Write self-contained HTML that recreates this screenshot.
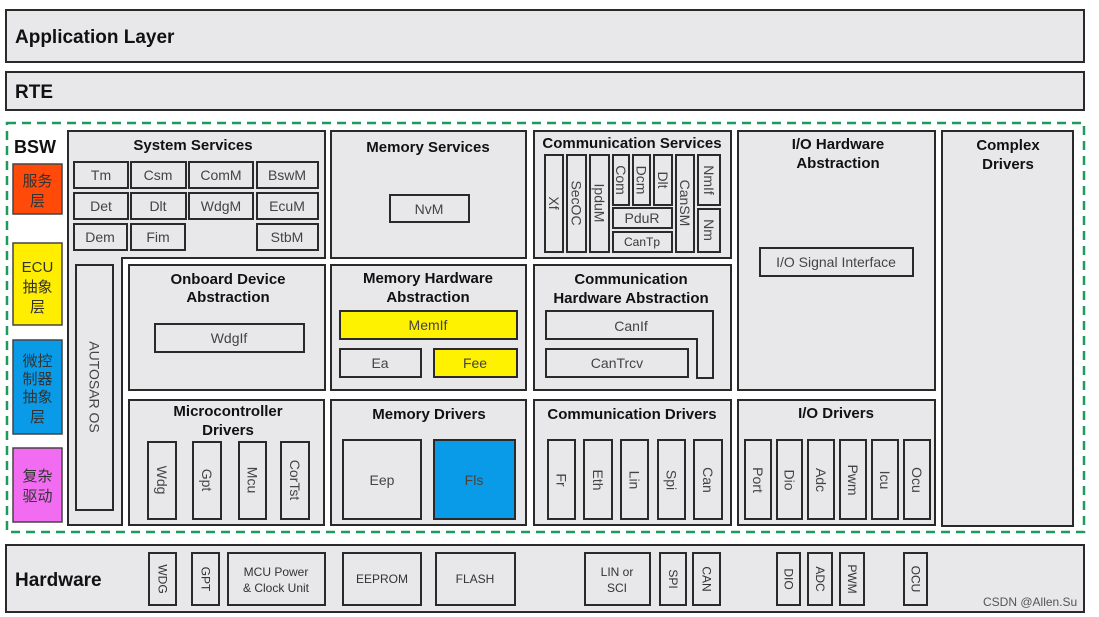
<!DOCTYPE html>
<html><head><meta charset="utf-8">
<style>
html,body{margin:0;padding:0;background:#fff;}
svg{display:block;}
text{font-family:"Liberation Sans","Noto Sans CJK SC",sans-serif;}
.b{fill:#e8e7ea;stroke:#2a2a2a;stroke-width:2;}
.t{font-weight:bold;font-size:15px;fill:#111;text-anchor:middle;}
.l{font-size:14px;fill:#444;text-anchor:middle;dominant-baseline:central;}
.h{font-size:12px;fill:#333;text-anchor:middle;dominant-baseline:central;}
.z{font-size:15px;fill:#333;text-anchor:middle;}
</style></head><body>
<svg width="1099" height="617" viewBox="0 0 1099 617" xmlns="http://www.w3.org/2000/svg">
<rect class="b" x="6" y="10" width="1078" height="52"/>
<text x="15" y="43" style="font-weight:bold;font-size:19px;fill:#111">Application Layer</text>
<rect class="b" x="6" y="72" width="1078" height="38"/>
<text x="15" y="98" style="font-weight:bold;font-size:19px;fill:#111">RTE</text>
<rect x="7" y="123" width="1077" height="409" fill="none" stroke="#1f9a5f" stroke-width="2.5" stroke-dasharray="9,6"/>
<text x="14" y="153" style="font-weight:bold;font-size:18px;fill:#111">BSW</text>
<rect x="13" y="164" width="49" height="50" fill="#ff4a0a" stroke="#444" stroke-width="1.5"/>
<text class="z" x="37.5" y="186">服务</text><text class="z" x="37.5" y="206">层</text>
<rect x="13" y="243" width="49" height="82" fill="#ffee00" stroke="#444" stroke-width="1.5"/>
<text class="z" x="37.5" y="272">ECU</text><text class="z" x="37.5" y="292">抽象</text><text class="z" x="37.5" y="312">层</text>
<rect x="13" y="340" width="49" height="94" fill="#0a9be8" stroke="#444" stroke-width="1.5"/>
<text class="z" x="37.5" y="366">微控</text><text class="z" x="37.5" y="384">制器</text><text class="z" x="37.5" y="402">抽象</text><text class="z" x="37.5" y="422">层</text>
<rect x="13" y="448" width="49" height="74" fill="#f26cf2" stroke="#444" stroke-width="1.5"/>
<text class="z" x="37.5" y="481">复杂</text><text class="z" x="37.5" y="501">驱动</text>

<!-- System services L -->
<path class="b" d="M68 131 H325 V258 H122 V525 H68 Z"/>
<text class="t" x="193" y="150">System Services</text>
<rect class="b" x="74" y="162" width="54" height="26"/><text class="l" x="101" y="175">Tm</text>
<rect class="b" x="131" y="162" width="55" height="26"/><text class="l" x="158" y="175">Csm</text>
<rect class="b" x="189" y="162" width="64" height="26"/><text class="l" x="221" y="175">ComM</text>
<rect class="b" x="257" y="162" width="61" height="26"/><text class="l" x="287" y="175">BswM</text>
<rect class="b" x="74" y="193" width="54" height="26"/><text class="l" x="101" y="206">Det</text>
<rect class="b" x="131" y="193" width="55" height="26"/><text class="l" x="158" y="206">Dlt</text>
<rect class="b" x="189" y="193" width="64" height="26"/><text class="l" x="221" y="206">WdgM</text>
<rect class="b" x="257" y="193" width="61" height="26"/><text class="l" x="287" y="206">EcuM</text>
<rect class="b" x="74" y="224" width="53" height="26"/><text class="l" x="100" y="237">Dem</text>
<rect class="b" x="131" y="224" width="54" height="26"/><text class="l" x="158" y="237">Fim</text>
<rect class="b" x="257" y="224" width="61" height="26"/><text class="l" x="287" y="237">StbM</text>
<rect class="b" x="76" y="265" width="37" height="245"/>
<text class="l" transform="translate(94.5 387) rotate(90)">AUTOSAR  OS</text>

<rect class="b" x="129" y="265" width="196" height="125"/>
<text class="t" x="228" y="284">Onboard Device</text><text class="t" x="228" y="302">Abstraction</text>
<rect class="b" x="155" y="324" width="149" height="28"/><text class="l" x="229" y="338">WdgIf</text>

<rect class="b" x="129" y="400" width="195" height="125"/>
<text class="t" x="228" y="416">Microcontroller</text><text class="t" x="228" y="435">Drivers</text>
<rect class="b" x="148" y="442" width="28" height="77"/><text class="l" transform="translate(162 480) rotate(90)">Wdg</text>
<rect class="b" x="193" y="442" width="28" height="77"/><text class="l" transform="translate(207 480) rotate(90)">Gpt</text>
<rect class="b" x="239" y="442" width="27" height="77"/><text class="l" transform="translate(252.5 480) rotate(90)">Mcu</text>
<rect class="b" x="281" y="442" width="28" height="77"/><text class="l" transform="translate(295 480) rotate(90)">CorTst</text>

<!-- Memory -->
<rect class="b" x="331" y="131" width="195" height="127"/>
<text class="t" x="428" y="152">Memory Services</text>
<rect class="b" x="390" y="195" width="79" height="27"/><text class="l" x="429" y="209">NvM</text>
<rect class="b" x="331" y="265" width="195" height="125"/>
<text class="t" x="428" y="283">Memory Hardware</text><text class="t" x="428" y="302">Abstraction</text>
<rect x="340" y="311" width="177" height="28" fill="#fff200" stroke="#2a2a2a" stroke-width="2"/><text class="l" x="428" y="325">MemIf</text>
<rect class="b" x="340" y="349" width="81" height="28"/><text class="l" x="380" y="363">Ea</text>
<rect x="434" y="349" width="83" height="28" fill="#fff200" stroke="#2a2a2a" stroke-width="2"/><text class="l" x="475" y="363">Fee</text>
<rect class="b" x="331" y="400" width="195" height="125"/>
<text class="t" x="429" y="419">Memory Drivers</text>
<rect class="b" x="343" y="440" width="78" height="79"/><text class="l" x="382" y="480">Eep</text>
<rect x="434" y="440" width="81" height="79" fill="#0a9be8" stroke="#2a2a2a" stroke-width="2"/><text class="l" x="474" y="480">Fls</text>

<!-- Communication -->
<rect class="b" x="534" y="131" width="197" height="127"/>
<text class="t" x="632" y="148">Communication Services</text>
<rect class="b" x="545" y="155" width="18" height="97"/><text class="l" transform="translate(554 203) rotate(90)">Xf</text>
<rect class="b" x="567" y="155" width="19" height="97"/><text class="l" transform="translate(576.5 203) rotate(90)">SecOC</text>
<rect class="b" x="590" y="155" width="19" height="97"/><text class="l" transform="translate(599.5 203) rotate(90)">IpduM</text>
<rect class="b" x="613" y="155" width="16" height="50"/><text class="l" transform="translate(621 180) rotate(90)">Com</text>
<rect class="b" x="633" y="155" width="17" height="50"/><text class="l" transform="translate(641.5 180) rotate(90)">Dcm</text>
<rect class="b" x="654" y="155" width="18" height="50"/><text class="l" transform="translate(663 180) rotate(90)">Dlt</text>
<rect class="b" x="613" y="208" width="59" height="20"/><text class="l" x="642" y="218">PduR</text>
<rect class="b" x="613" y="232" width="59" height="20"/><text class="h" x="642" y="242">CanTp</text>
<rect class="b" x="676" y="155" width="18" height="97"/><text class="l" transform="translate(685 203) rotate(90)">CanSM</text>
<rect class="b" x="698" y="155" width="22" height="50"/><text class="l" transform="translate(709 180) rotate(90)">NmIf</text>
<rect class="b" x="698" y="209" width="22" height="43"/><text class="l" transform="translate(709 230) rotate(90)">Nm</text>

<rect class="b" x="534" y="265" width="197" height="125"/>
<text class="t" x="631" y="284">Communication</text><text class="t" x="631" y="303">Hardware Abstraction</text>
<path class="b" d="M546 311 H713 V378 H697 V339 H546 Z"/><text class="l" x="631" y="326">CanIf</text>
<rect class="b" x="546" y="349" width="142" height="28"/><text class="l" x="617" y="363">CanTrcv</text>

<rect class="b" x="534" y="400" width="197" height="125"/>
<text class="t" x="632" y="419">Communication Drivers</text>
<rect class="b" x="548" y="440" width="27" height="79"/><text class="l" transform="translate(561.5 480) rotate(90)">Fr</text>
<rect class="b" x="584" y="440" width="28" height="79"/><text class="l" transform="translate(598 480) rotate(90)">Eth</text>
<rect class="b" x="621" y="440" width="27" height="79"/><text class="l" transform="translate(634.5 480) rotate(90)">Lin</text>
<rect class="b" x="658" y="440" width="27" height="79"/><text class="l" transform="translate(671.5 480) rotate(90)">Spi</text>
<rect class="b" x="694" y="440" width="28" height="79"/><text class="l" transform="translate(708 480) rotate(90)">Can</text>

<!-- IO -->
<rect class="b" x="738" y="131" width="197" height="259"/>
<text class="t" x="838" y="149">I/O Hardware</text><text class="t" x="838" y="168">Abstraction</text>
<rect class="b" x="760" y="248" width="153" height="28"/><text class="l" x="836" y="262">I/O Signal Interface</text>
<rect class="b" x="738" y="400" width="197" height="125"/>
<text class="t" x="836" y="418">I/O Drivers</text>
<rect class="b" x="745" y="440" width="26" height="79"/><text class="l" transform="translate(758 480) rotate(90)">Port</text>
<rect class="b" x="777" y="440" width="25" height="79"/><text class="l" transform="translate(789.5 480) rotate(90)">Dio</text>
<rect class="b" x="808" y="440" width="26" height="79"/><text class="l" transform="translate(821 480) rotate(90)">Adc</text>
<rect class="b" x="840" y="440" width="26" height="79"/><text class="l" transform="translate(853 480) rotate(90)">Pwm</text>
<rect class="b" x="872" y="440" width="26" height="79"/><text class="l" transform="translate(885 480) rotate(90)">Icu</text>
<rect class="b" x="904" y="440" width="26" height="79"/><text class="l" transform="translate(917 480) rotate(90)">Ocu</text>

<rect class="b" x="942" y="131" width="131" height="395"/>
<text class="t" x="1008" y="150">Complex</text><text class="t" x="1008" y="169">Drivers</text>

<!-- Hardware -->
<rect class="b" x="6" y="545" width="1078" height="67"/>
<text x="15" y="586" style="font-weight:bold;font-size:19px;fill:#111">Hardware</text>
<rect class="b" x="149" y="553" width="27" height="52"/><text class="h" transform="translate(162.5 579) rotate(90)">WDG</text>
<rect class="b" x="192" y="553" width="27" height="52"/><text class="h" transform="translate(205.5 579) rotate(90)">GPT</text>
<rect class="b" x="228" y="553" width="97" height="52"/><text class="h" x="276" y="572">MCU Power</text><text class="h" x="276" y="588">&amp; Clock Unit</text>
<rect class="b" x="343" y="553" width="78" height="52"/><text class="h" x="382" y="579">EEPROM</text>
<rect class="b" x="436" y="553" width="79" height="52"/><text class="h" x="475" y="579">FLASH</text>
<rect class="b" x="585" y="553" width="65" height="52"/><text class="h" x="617" y="572">LIN or</text><text class="h" x="617" y="588">SCI</text>
<rect class="b" x="660" y="553" width="26" height="52"/><text class="h" transform="translate(673 579) rotate(90)">SPI</text>
<rect class="b" x="693" y="553" width="27" height="52"/><text class="h" transform="translate(706.5 579) rotate(90)">CAN</text>
<rect class="b" x="777" y="553" width="23" height="52"/><text class="h" transform="translate(788.5 579) rotate(90)">DIO</text>
<rect class="b" x="808" y="553" width="24" height="52"/><text class="h" transform="translate(820 579) rotate(90)">ADC</text>
<rect class="b" x="840" y="553" width="24" height="52"/><text class="h" transform="translate(852 579) rotate(90)">PWM</text>
<rect class="b" x="904" y="553" width="23" height="52"/><text class="h" transform="translate(915.5 579) rotate(90)">OCU</text>
<text x="983" y="606" style="font-size:12px;fill:#555">CSDN @Allen.Su</text>
</svg>
</body></html>
